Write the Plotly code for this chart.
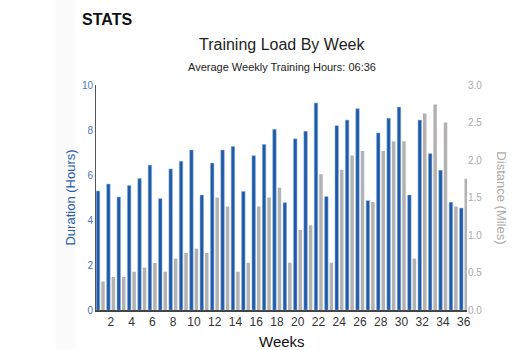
import plotly.graph_objects as go

weeks = list(range(1, 37))
duration_hours = [5.29, 5.6, 5.02, 5.53, 5.85, 6.44, 4.95, 6.27, 6.61, 7.11,
                  5.11, 6.53, 7.11, 7.27, 5.27, 6.86, 7.36, 8.03, 4.77, 7.61,
                  7.94, 9.2, 5.04, 8.19, 8.44, 8.95, 4.86, 7.87, 8.52, 9.02,
                  5.11, 8.44, 6.95, 6.21, 4.79, 4.53]
distance_miles = [0.38, 0.44, 0.44, 0.51, 0.565, 0.627, 0.51, 0.685, 0.76, 0.818,
                  0.76, 1.50, 1.38, 0.51, 0.63, 1.38, 1.50, 1.63, 0.63, 1.067,
                  1.13, 1.81, 0.63, 1.87, 2.06, 2.12, 1.44, 2.12, 2.25, 2.25,
                  0.685, 2.62, 2.74, 2.50, 1.38, 1.75]
x_ticks = list(range(2, 37, 2))
left_ticks = [0, 2, 4, 6, 8, 10]
right_ticks = [0.0, 0.5, 1.0, 1.5, 2.0, 2.5, 3.0]

FONT = "Liberation Sans, Arial, sans-serif"
BLUE = "#1f5ba8"
GRAY = "#b3b1b1"

fig = go.Figure()
fig.add_trace(go.Bar(x=weeks, y=duration_hours, name="Duration",
                     marker=dict(color=BLUE, line=dict(width=0.5, color="#8fb0dc")),
                     yaxis="y", offsetgroup="a"))
fig.add_trace(go.Bar(x=weeks, y=distance_miles, name="Distance",
                     marker=dict(color=GRAY, line=dict(width=0)),
                     yaxis="y2", offsetgroup="b"))

fig.update_layout(
    width=525, height=350,
    margin=dict(l=96, r=58, t=85, b=40),
    paper_bgcolor="white", plot_bgcolor="white",
    showlegend=False,
    barmode="group", bargap=0.04, bargroupgap=0.3,
    font=dict(family=FONT),
    xaxis=dict(range=[0.566, 36.31], tickvals=x_ticks, ticktext=[str(t) for t in x_ticks],
               showgrid=False, zeroline=False, showline=True, linecolor="#444",
               linewidth=1.5, ticks="", automargin=False,
               tickfont=dict(size=12, color="#333")),
    yaxis=dict(range=[0, 10], tickvals=left_ticks, showgrid=False, zeroline=False,
               showline=True, linecolor="#555", linewidth=1, ticks="", automargin=False,
               tickfont=dict(size=10, color="#4a78c0")),
    yaxis2=dict(range=[0, 3], tickvals=right_ticks, ticktext=[f"{t:.1f}" for t in right_ticks],
                overlaying="y", side="right", showgrid=False, zeroline=False,
                showline=False, ticks="", automargin=False,
                tickfont=dict(size=10, color="#aaaaaa")),
    shapes=[dict(type="rect", xref="paper", yref="paper", x0=-0.1105, x1=-0.0566,
                 y0=-0.178, y1=1.378, fillcolor="#fbfbfb", line=dict(width=0), layer="below")],
    annotations=[
        dict(text="<b>STATS</b>", xref="paper", yref="paper", x=-0.043, y=1.29,
             xanchor="left", yanchor="middle", showarrow=False,
             font=dict(size=16, color="#111")),
        dict(text="Training Load By Week", xref="paper", yref="paper", x=0.5, y=1.178,
             xanchor="center", yanchor="middle", showarrow=False,
             font=dict(size=16, color="#222")),
        dict(text="Average Weekly Training Hours: 06:36", xref="paper", yref="paper",
             x=0.5, y=1.08, xanchor="center", yanchor="middle", showarrow=False,
             font=dict(size=11, color="#222")),
        dict(text="Duration (Hours)", xref="paper", yref="paper", x=-0.07, y=0.5,
             xanchor="center", yanchor="middle", showarrow=False, textangle=-90,
             font=dict(size=13, color="#2a5db0")),
        dict(text="Distance (Miles)", xref="paper", yref="paper", x=1.092, y=0.5,
             xanchor="center", yanchor="middle", showarrow=False, textangle=90,
             font=dict(size=13, color="#aaaaaa")),
        dict(text="Weeks", xref="paper", yref="paper", x=0.5, y=-0.142,
             xanchor="center", yanchor="middle", showarrow=False,
             font=dict(size=15, color="#111")),
    ],
)

fig.write_html("out.html")
